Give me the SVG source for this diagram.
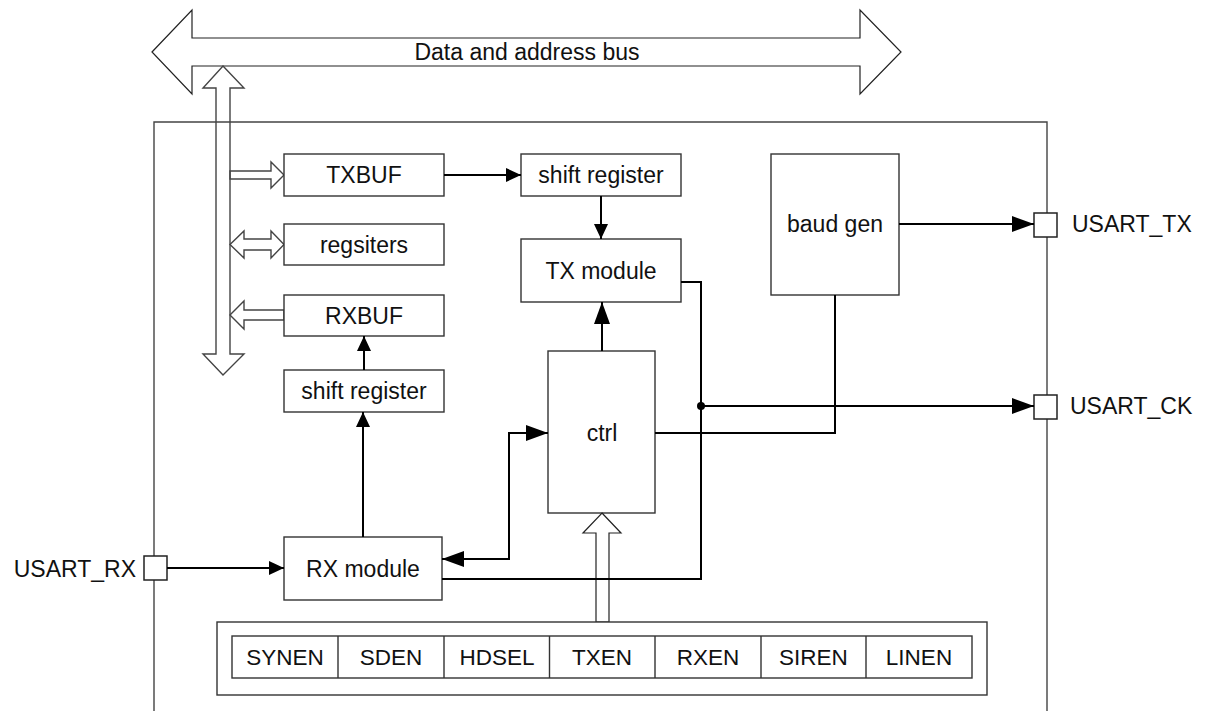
<svg xmlns="http://www.w3.org/2000/svg" width="1206" height="711" viewBox="0 0 1206 711">
<style>
text{font-family:"Liberation Sans",Arial,sans-serif;font-size:23px;fill:#111;}
.c{text-anchor:middle;dominant-baseline:central;}
.reg{font-size:22.5px;}
.box{fill:#fff;stroke:#333;stroke-width:1.4;}
.wire{fill:none;stroke:#000;stroke-width:2;}
.hol{fill:#fff;stroke:#222;stroke-width:1.2;}
.holn{fill:none;stroke:#444;stroke-width:1.4;}
.pin{fill:#fff;stroke:#222;stroke-width:1.5;}
</style>
<defs>
<marker id="as" markerUnits="userSpaceOnUse" markerWidth="15" markerHeight="14" refX="15" refY="7" orient="auto-start-reverse"><path d="M0,0 L15,7 L0,14 z" fill="#000"/></marker>
<marker id="al" markerUnits="userSpaceOnUse" markerWidth="22" markerHeight="16" refX="22" refY="8" orient="auto-start-reverse"><path d="M0,0 L22,8 L0,16 z" fill="#000"/></marker>
</defs>
<rect width="1206" height="711" fill="#fff"/>
<g id="container"><path d="M154,711 V122 H1047 V711" fill="none" stroke="#444" stroke-width="1.4"/></g>
<g id="bus">
<polygon class="hol" points="152,52 192,10 192,38 860,38 860,10 901,52 860,94 860,66 192,66 192,94"/>
<text class="c" x="527" y="51.5">Data and address bus</text>
</g>
<g id="vbus"><polygon class="holn" points="223,66 244,88 230,88 230,354 244,354 223,375 203,354 216,354 216,88 203,88"/></g>
<g id="bus-arrows">
<polygon class="holn" points="230,171 271,171 271,162 284,175 271,188 271,179 230,179"/>
<polygon class="holn" points="230,244.5 244,231 244,239 271,239 271,231 284,244.5 271,258 271,250 244,250 244,258"/>
<polygon class="holn" points="284,310 244,310 244,301 230,315 244,329 244,320 284,320"/>
</g>
<g id="TXBUF"><rect class="box" x="284" y="154" width="160" height="42"/><text class="c" x="364" y="175">TXBUF</text></g>
<g id="regsiters"><rect class="box" x="284" y="224" width="160" height="41"/><text class="c" x="364" y="244.5">regsiters</text></g>
<g id="RXBUF"><rect class="box" x="284" y="295" width="160" height="41"/><text class="c" x="364" y="315.5">RXBUF</text></g>
<g id="shift-rx"><rect class="box" x="284" y="370" width="160" height="42"/><text class="c" x="364" y="391">shift register</text></g>
<g id="shift-tx"><rect class="box" x="521" y="154" width="160" height="42"/><text class="c" x="601" y="175">shift register</text></g>
<g id="TXmodule"><rect class="box" x="521" y="239" width="160" height="63"/><text class="c" x="601" y="270.5">TX module</text></g>
<g id="ctrl"><rect class="box" x="548" y="351" width="107" height="162"/><text class="c" x="602" y="433">ctrl</text></g>
<g id="baudgen"><rect class="box" x="771" y="154" width="128" height="141"/><text class="c" x="835" y="224">baud gen</text></g>
<g id="RXmodule"><rect class="box" x="284" y="537" width="158" height="63"/><text class="c" x="363" y="568.5">RX module</text></g>
<g id="USART_RX"><rect class="pin" x="144" y="556" width="23" height="24"/><text x="136" y="568.5" style="text-anchor:end;dominant-baseline:central">USART_RX</text></g>
<g id="USART_TX"><rect class="pin" x="1034" y="213" width="23" height="24"/><text x="1072" y="224" style="dominant-baseline:central">USART_TX</text></g>
<g id="USART_CK"><rect class="pin" x="1034" y="395" width="23" height="24"/><text x="1070" y="406" style="dominant-baseline:central">USART_CK</text></g>
<g id="ctrl-input"><polygon class="hol" points="602,513 621,533 609,533 609,622 596,622 596,533 583,533"/></g>
<g id="registers-bar">
<rect class="box" x="217" y="622" width="770" height="73"/>
<rect class="box" x="232" y="636" width="740" height="42"/>
<path d="M338,636V678 M444,636V678 M549.5,636V678 M655,636V678 M761,636V678 M866,636V678" stroke="#333" stroke-width="1.4"/>
<text class="c reg" x="285" y="657">SYNEN</text>
<text class="c reg" x="391" y="657">SDEN</text>
<text class="c reg" x="497" y="657">HDSEL</text>
<text class="c reg" x="602" y="657">TXEN</text>
<text class="c reg" x="708" y="657">RXEN</text>
<text class="c reg" x="813.5" y="657">SIREN</text>
<text class="c reg" x="919" y="657">LINEN</text>
</g>
<g id="connectors">
<path class="wire" d="M444,175 H521" marker-end="url(#as)"/>
<path class="wire" d="M601,196 V239" marker-end="url(#as)"/>
<path class="wire" d="M602,351 V302" marker-end="url(#al)"/>
<path class="wire" d="M364,370 V336" marker-end="url(#as)"/>
<path class="wire" d="M363,537 V412" marker-end="url(#as)"/>
<path class="wire" d="M167,568 H284" marker-end="url(#as)"/>
<path class="wire" d="M442,559 H509 V433 H548" marker-start="url(#al)" marker-end="url(#al)"/>
<path class="wire" d="M681,282 H701 V579 H442"/>
<path class="wire" d="M701,406 H1034" marker-end="url(#al)"/>
<circle cx="701" cy="406" r="4" fill="#000"/>
<path class="wire" d="M655,433 H835 V295"/>
<path class="wire" d="M899,224 H1034" marker-end="url(#al)"/>
</g>
</svg>
